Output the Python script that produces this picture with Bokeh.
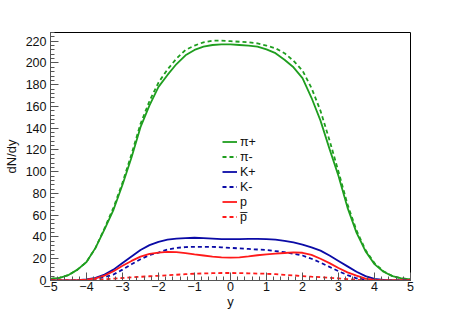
from bokeh.plotting import figure
from bokeh.models import SingleIntervalTicker, Range1d
from bokeh.embed import file_html
from bokeh.resources import INLINE

rapidity = [-5, -4.75, -4.5, -4.25, -4, -3.75, -3.5, -3.25, -3, -2.75, -2.5, -2.25, -2, -1.75, -1.5,
            -1.25, -1, -0.75, -0.5, -0.25, 0, 0.25, 0.5, 0.75, 1, 1.25, 1.5, 1.75, 2, 2.25, 2.5,
            2.75, 3, 3.25, 3.5, 3.75, 4, 4.25, 4.5, 4.75, 5]

pi_plus = [1.5, 2.5, 5, 10, 17, 30, 47, 65, 88, 113, 141, 161, 178, 189, 199, 207, 212, 215, 216.5, 217,
           217, 216.5, 216, 215, 212.5, 209, 203, 196, 186, 168, 147, 121, 96, 67, 44, 27, 15, 8, 4, 2, 1]
pi_minus = [1.5, 2.5, 5, 10, 17, 30, 48, 67, 90, 116, 144, 165, 182, 194, 204, 212, 216, 219, 220.5, 220.5,
            220, 219.5, 219, 218, 216, 213.5, 209, 202, 193, 177, 156, 129, 100, 70, 46, 28, 16, 8.5, 4, 2, 1]
k_plus = [0, 0, 0.1, 0.4, 1, 2.5, 5.5, 10, 16, 22, 28, 32.5, 35.5, 37.5, 38.5, 39, 39.3, 39, 38.5, 38,
          38, 38, 38.2, 38.2, 38, 37.5, 36.5, 35, 33, 30.5, 27.5, 23, 18, 13, 8, 4, 1.5, 0.5, 0.1, 0, 0]
k_minus = [0, 0, 0, 0.2, 0.6, 1.5, 3, 5.5, 10, 15, 19.5, 23.5, 25.7, 28.5, 30, 30.7, 31, 31, 31, 30.5,
           30, 29.5, 29, 28.5, 28, 27, 26, 24.5, 23, 20, 16.5, 12.5, 8.5, 5, 2, 0.8, 0.2, 0, 0, 0, 0]
proton = [0, 0, 0, 0.3, 0.8, 2, 4.5, 8.5, 13.5, 18, 22, 24.5, 25.7, 26.4, 26, 25.2, 24, 23, 22, 21.3,
          21, 21.3, 22.2, 23.2, 24, 24.8, 25.3, 25.8, 25.5, 23.5, 20, 16, 11.5, 7.5, 4.5, 1.8, 0.5, 0.1, 0, 0, 0]
antiproton = [0, 0, 0, 0, 0.1, 0.4, 1, 1.7, 2.3, 2.9, 3.4, 3.9, 4.3, 4.8, 5.3, 5.8, 6.2, 6.5, 6.7, 6.9,
              6.9, 6.8, 6.6, 6.4, 6.2, 5.8, 5.2, 4.7, 4.1, 3.5, 3, 2.5, 2, 1.3, 0.6, 0.2, 0, 0, 0, 0, 0]

labels = ["\u03c0+", "\u03c0-", "K+", "K-", "p", "p\u0305"]
colors = ["#1f9e1f", "#1f9e1f", "#0b0ba6", "#0b0ba6", "#ff1a1a", "#ff1a1a"]
dashes = ["solid", "4 3", "solid", "4 3", "solid", "4 3"]
series = [pi_plus, pi_minus, k_plus, k_minus, proton, antiproton]

FONT = "Liberation Sans"

p = figure(width=457, height=311, output_backend="svg", toolbar_location=None,
           x_range=Range1d(-5, 5), y_range=Range1d(0, 228),
           min_border_left=46, min_border_right=47, min_border_top=32, min_border_bottom=31)

for ys, lab, col, dash in zip(series, labels, colors, dashes):
    p.line(rapidity, ys, line_color=col, line_width=1.8, line_dash=dash, legend_label=lab)

p.grid.visible = False
p.outline_line_color = "black"
p.outline_line_width = 1

p.xaxis.ticker = SingleIntervalTicker(interval=1, num_minor_ticks=5)
p.yaxis.ticker = SingleIntervalTicker(interval=20, num_minor_ticks=5)
for ax in (p.xaxis, p.yaxis):
    ax.major_tick_in = 8
    ax.major_tick_out = 0
    ax.minor_tick_in = 4
    ax.minor_tick_out = 0
    ax.axis_line_color = "#555555"
    ax.major_tick_line_color = "#555555"
    ax.minor_tick_line_color = "#555555"
    ax.major_label_text_font = FONT
    ax.major_label_text_font_size = "12.5px"
    ax.major_label_text_color = "#111111"
    ax.axis_label_text_font = FONT
    ax.axis_label_text_font_size = "13px"
    ax.axis_label_text_font_style = "normal"
    ax.axis_label_text_color = "#111111"

p.xaxis.axis_label = "y"
p.yaxis.axis_label = "dN/dy"
p.xaxis.major_label_standoff = 1
p.xaxis.axis_label_standoff = 0
p.yaxis.major_label_standoff = 4
p.yaxis.axis_label_standoff = 4

lg = p.legend[0]
lg.location = (172, 56)
lg.background_fill_alpha = 0
lg.border_line_alpha = 0
lg.padding = 0
lg.margin = 0
lg.spacing = 0
lg.glyph_width = 15
lg.glyph_height = 15
lg.label_height = 15
lg.label_standoff = 3
lg.label_text_font = FONT
lg.label_text_font_size = "12.5px"
lg.label_text_color = "#111111"

open("out.html", "w").write(file_html(p, INLINE))
